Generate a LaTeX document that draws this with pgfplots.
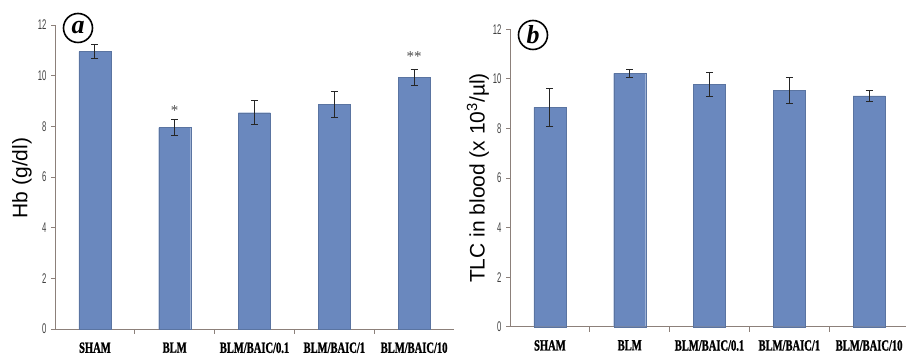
\documentclass[border=0pt]{standalone}
\usepackage{pgfplots}
\pgfplotsset{compat=1.18}
\usepackage{fontspec}
\setmainfont{Liberation Sans}
\newfontfamily\catfont{Liberation Serif}[BoldFeatures={FakeBold=1.5}]
\definecolor{barblue}{HTML}{6A88BE}
\definecolor{axgray}{HTML}{8C807A}
\definecolor{tickgray}{HTML}{404040}
\newcommand{\cat}[1]{\scalebox{0.68}[1]{\catfont\bfseries\fontsize{15.5}{15.5}\selectfont #1}}
\newcommand{\yt}[1]{\textcolor{tickgray}{\scalebox{0.55}[1]{\fontsize{14}{14}\selectfont #1}}}
\pgfplotsset{
  panel/.style={
    scale only axis, width=399pt, height=304pt,
    xmin=-0.5, xmax=4.5, ymin=0, ymax=12,
    axis x line=bottom, axis y line=left,
    axis line style={-, axgray, line width=0.8pt},
    xtick={0,1,2,3,4},
    xticklabels={\cat{SHAM},\cat{BLM},\cat{BLM/BAIC/0.1},\cat{BLM/BAIC/1},\cat{BLM/BAIC/10}},
    major x tick style={draw=none},
    minor xtick={0.5,1.5,2.5,3.5},
    minor tick length=5pt,
    minor x tick style={axgray, line width=0.8pt},
    ytick={0,2,4,6,8,10,12},
    yticklabels={\yt{0},\yt{2},\yt{4},\yt{6},\yt{8},\yt{10},\yt{12}},
    major y tick style={axgray, line width=0.8pt},
    major tick length=4pt,
    tick align=outside,
    xticklabel style={yshift=-6pt},
    yticklabel style={xshift=-1pt},
    clip=false,
  },
  bars/.style={
    ybar, bar width=32pt, fill=barblue, draw=barblue!85!black, line width=0.3pt,
    error bars/.cd, y dir=both, y explicit,
    error bar style={line width=1pt, black!85},
    error mark options={rotate=90, mark size=3.5pt, line width=1pt, black!85},
  },
}
\begin{document}
\begin{tikzpicture}
\path[use as bounding box] (0,0) rectangle (906pt,356pt);
% panel a
\begin{axis}[panel, at={(55pt,27pt)}, anchor=south west]
\addplot[bars] coordinates {
  (0,10.95) +- (0,0.27)
  (1,7.95) +- (0,0.31)
  (2,8.54) +- (0,0.48)
  (3,8.86) +- (0,0.50)
  (4,9.94) +- (0,0.32)
};
\node[font=\catfont\fontsize{15}{15}\selectfont, text=black!70] at (axis cs:1,8.62) {*};
\node[font=\catfont\fontsize{15}{15}\selectfont, text=black!70] at (axis cs:4,10.75) {**};
\end{axis}
% panel b
\begin{axis}[panel, at={(510pt,29.3pt)}, anchor=south west, height=297.4pt]
\addplot[bars] coordinates {
  (0,8.85) +- (0,0.77)
  (1,10.22) +- (0,0.15)
  (2,9.77) +- (0,0.50)
  (3,9.54) +- (0,0.52)
  (4,9.31) +- (0,0.21)
};
\end{axis}
\node[rotate=90, font=\fontsize{21}{21}\selectfont] at (22pt,178pt) {Hb (g/dl)};
\node[rotate=90, font=\fontsize{21}{21}\selectfont] at (478pt,178pt) {TLC in blood (x 10\textsuperscript{3}/µl)};
\node[circle, draw, line width=1.6pt, minimum size=29pt, inner sep=0pt,
      font=\catfont\bfseries\itshape\fontsize{26}{26}\selectfont] at (78pt,328pt) {a};
\node[circle, draw, line width=1.6pt, minimum size=29pt, inner sep=0pt,
      font=\catfont\bfseries\itshape\fontsize{26}{26}\selectfont] at (533pt,321pt) {b};
\end{tikzpicture}
\end{document}
